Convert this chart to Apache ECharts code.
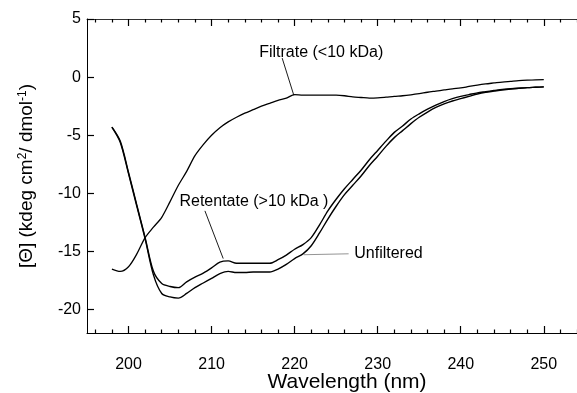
<!DOCTYPE html>
<html>
<head>
<meta charset="utf-8">
<script src="https://cdn.jsdelivr.net/npm/echarts@6/dist/echarts.min.js"></script>
<style>
html,body{margin:0;padding:0;background:#fff;}
#chart{width:577px;height:393px;}
</style>
</head>
<body>
<div id="chart"></div>
<script>
// Wavelength (nm)
var wavelengths = [198,199,200,201,202,203,204,205,206,207,208,209,210,211,212,213,214,215,216,217,218,219,220,221,222,223,224,225,226,227,228,229,230,231,232,233,234,235,236,237,238,239,240,241,242,243,244,245,246,247,248,249,250];
// Unfiltered (kdeg cm2/dmol-1)
var unfiltered = [-4.3,-5.6,-8.3,-11.1,-13.9,-17.0,-18.6,-18.9,-19.0,-18.6,-18.1,-17.7,-17.3,-16.9,-16.7,-16.8,-16.8,-16.75,-16.75,-16.75,-16.5,-16.1,-15.6,-15.2,-14.5,-13.4,-12.2,-11.1,-10.1,-9.3,-8.5,-7.6,-6.8,-5.95,-5.2,-4.6,-4.0,-3.45,-3.0,-2.6,-2.3,-2.05,-1.85,-1.65,-1.45,-1.3,-1.2,-1.1,-1.02,-0.96,-0.9,-0.87,-0.84];
// Retentate (>10 kDa)
var retentate = [-4.3,-5.5,-8.2,-11.0,-13.8,-16.7,-17.75,-18.0,-18.1,-17.6,-17.2,-16.85,-16.4,-15.9,-15.8,-16.0,-16.0,-16.0,-16.0,-16.0,-15.7,-15.3,-14.8,-14.4,-13.8,-12.7,-11.5,-10.5,-9.6,-8.8,-8.0,-7.1,-6.3,-5.5,-4.75,-4.2,-3.6,-3.15,-2.75,-2.4,-2.1,-1.85,-1.65,-1.5,-1.35,-1.25,-1.15,-1.05,-1.0,-0.95,-0.9,-0.87,-0.84];
// Filtrate (<10 kDa)
var filtrate = [-16.5,-16.7,-16.3,-15.2,-13.8,-12.9,-12.05,-10.7,-9.3,-8.1,-6.75,-5.8,-5.0,-4.35,-3.85,-3.45,-3.1,-2.8,-2.5,-2.25,-2.0,-1.8,-1.5,-1.55,-1.55,-1.55,-1.55,-1.55,-1.6,-1.7,-1.75,-1.8,-1.78,-1.72,-1.65,-1.6,-1.52,-1.42,-1.3,-1.2,-1.1,-1.0,-0.93,-0.8,-0.68,-0.58,-0.5,-0.42,-0.36,-0.3,-0.26,-0.23,-0.22];

var xMajorTicks = [200,210,220,230,240,250];
var xMinorTicks = [196,198,202,204,206,208,212,214,216,218,222,224,226,228,232,234,236,238,242,244,246,248,252,254];
var yMajorTicks = [-20,-15,-10,-5,0,5];

// annotations: [label text, label centre, arrow start, arrow tip]
var filtrateNote = ['Filtrate (<10 kDa)', [223.2, 2.09], [218.5, 1.64], [219.9, -1.55]];
var retentateNote = ['Retentate (>10 kDa )', [215.1, -10.74], [209.2, -11.5], [211.4, -15.6]];
var unfilteredNote = ['Unfiltered', [231.3, -15.19], [226.5, -15.19], [221.1, -15.27]];

var X_MIN = 195, X_MAX = 254, Y_MIN = -22, Y_MAX = 5;

function pairs(vals){ return wavelengths.map(function(w,i){return [w, vals[i]];}); }

var FONT = 'Liberation Sans, Arial, Helvetica, sans-serif';

function note(n, arrowColor){
  return {
    markLine: {
      silent: true, animation: false,
      symbol: ['none','arrow'], symbolSize: [0, 10],
      label: {show: false},
      lineStyle: {color: arrowColor, width: 0.9, type: 'solid'},
      data: [[{coord: n[2]}, {coord: n[3]}]]
    },
    markPoint: {
      silent: true, animation: false,
      symbol: 'circle', symbolSize: 1,
      itemStyle: {color: 'rgba(0,0,0,0)'},
      label: {show: true, position: 'inside', color: '#000', fontSize: 16, fontFamily: FONT, formatter: n[0]},
      data: [{coord: n[1]}]
    }
  };
}

function tickAxis(pos, ticks, len, showLine, lineColor){
  return {
    type: 'value', position: pos, min: X_MIN, max: X_MAX,
    axisLine: {show: showLine, onZero: false, lineStyle: {color: lineColor, width: 1}},
    axisTick: {show: true, inside: true, length: len, customValues: ticks, lineStyle: {color: '#000', width: 1.2}},
    axisLabel: {show: false}, splitLine: {show: false}
  };
}

var chart = echarts.init(document.getElementById('chart'));

var s1 = Object.assign({type: 'line', name: 'Filtrate', data: pairs(filtrate), showSymbol: false, smooth: 0.3,
  lineStyle: {color: '#000', width: 1.3}}, note(filtrateNote, '#000'));
var s2 = Object.assign({type: 'line', name: 'Retentate', data: pairs(retentate), showSymbol: false, smooth: 0.3,
  lineStyle: {color: '#000', width: 1.4}}, note(retentateNote, '#000'));
var s3 = Object.assign({type: 'line', name: 'Unfiltered', data: pairs(unfiltered), showSymbol: false, smooth: 0.3,
  lineStyle: {color: '#000', width: 1.4}}, note(unfilteredNote, '#888'));

chart.setOption({
  animation: false,
  grid: {left: 87, right: 0, top: 19, bottom: 60, containLabel: false, outerBoundsMode: 'none'},
  xAxis: [
    {
      type: 'value', position: 'bottom', min: X_MIN, max: X_MAX,
      axisLine: {show: true, onZero: false, lineStyle: {color: '#000', width: 1}},
      axisTick: {show: true, inside: true, length: 7, customValues: xMajorTicks, lineStyle: {color: '#000', width: 1.2}},
      axisLabel: {customValues: xMajorTicks, color: '#000', fontSize: 16, fontFamily: FONT, margin: 24},
      splitLine: {show: false},
      name: 'Wavelength (nm)', nameLocation: 'middle', nameGap: 39, nameMoveOverlap: false,
      nameTextStyle: {color: '#000', fontSize: 21, fontFamily: FONT, padding: [0,0,0,30]}
    },
    tickAxis('top', xMajorTicks, 7, true, '#333'),
    tickAxis('bottom', xMinorTicks, 3.5, false, '#000'),
    tickAxis('top', xMinorTicks, 3.5, false, '#000')
  ],
  yAxis: {
    type: 'value', min: Y_MIN, max: Y_MAX,
    axisLine: {show: true, onZero: false, lineStyle: {color: '#000', width: 1}},
    axisTick: {show: true, inside: true, length: 7, customValues: yMajorTicks, lineStyle: {color: '#000', width: 1.2}},
    axisLabel: {customValues: yMajorTicks, color: '#000', fontSize: 16, fontFamily: FONT, margin: 6},
    splitLine: {show: false},
    name: '{n|[Θ] (kdeg cm}{s|2}{n|/ dmol}{s|-1}{n|)}',
    nameLocation: 'middle', nameGap: 50, nameRotate: 90,
    nameTextStyle: {
      color: '#000', fontFamily: FONT,
      rich: {
        n: {fontSize: 19, fontFamily: FONT, color: '#000'},
        s: {fontSize: 12, fontFamily: FONT, color: '#000', verticalAlign: 'top', padding: [0,0,8,0]}
      }
    }
  },
  series: [s1, s2, s3]
});
</script>
</body>
</html>
